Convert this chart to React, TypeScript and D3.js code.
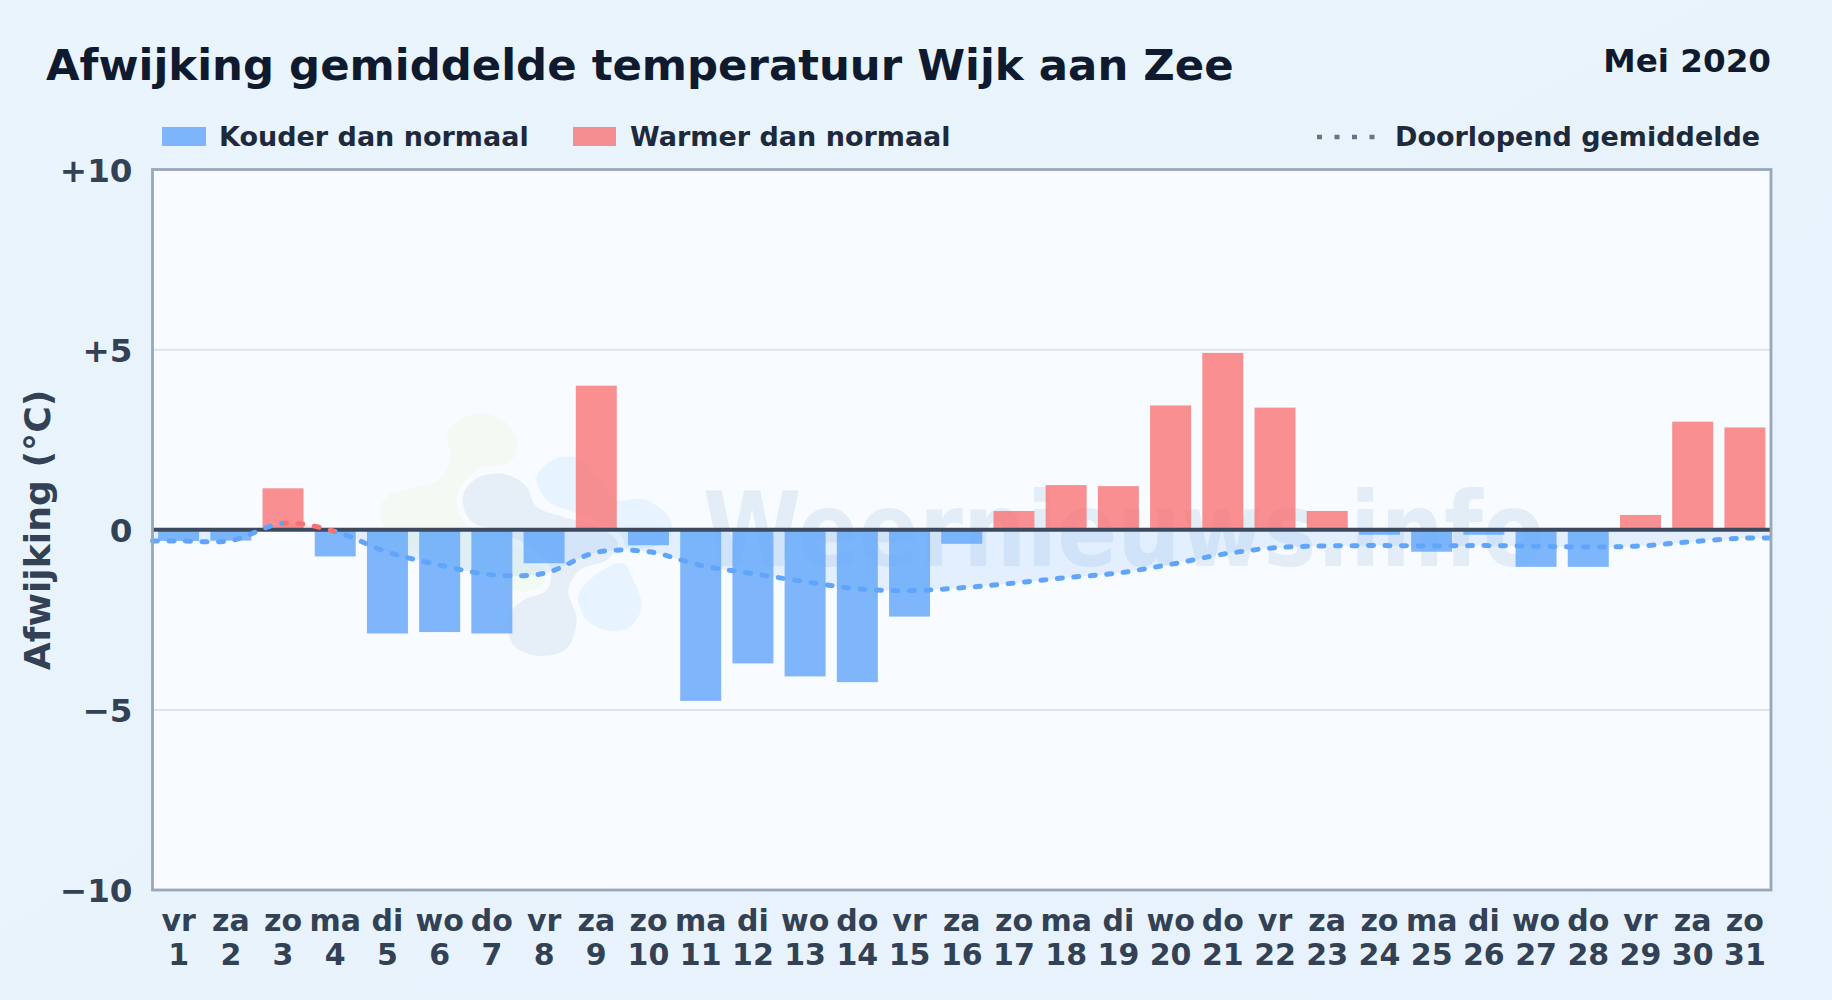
import { useEffect, useRef } from "react";
import * as d3 from "d3";

const WIDTH = 1832;
const HEIGHT = 1000;
const margin = { top: 169.5, right: 61, bottom: 110, left: 152.5 };
const FONT = "'DejaVu Sans', sans-serif";

const weekdays = ["vr", "za", "zo", "ma", "di", "wo", "do", "vr", "za", "zo", "ma", "di", "wo", "do", "vr", "za", "zo", "ma", "di", "wo", "do", "vr", "za", "zo", "ma", "di", "wo", "do", "vr", "za", "zo"];
const days = [1, 2, 3, 4, 5, 6, 7, 8, 9, 10, 11, 12, 13, 14, 15, 16, 17, 18, 19, 20, 21, 22, 23, 24, 25, 26, 27, 28, 29, 30, 31];
const deviation = [-0.31, -0.3, 1.15, -0.74, -2.88, -2.84, -2.88, -0.93, 4.0, -0.43, -4.75, -3.71, -4.07, -4.23, -2.41, -0.39, 0.52, 1.24, 1.21, 3.45, 4.91, 3.39, 0.52, -0.14, -0.61, -0.14, -1.03, -1.03, 0.41, 3.0, 2.84];
const runningMean = [-0.31, -0.3, 0.18, -0.05, -0.62, -0.98, -1.25, -1.21, -0.63, -0.61, -0.99, -1.22, -1.44, -1.64, -1.69, -1.61, -1.48, -1.33, -1.2, -0.96, -0.68, -0.5, -0.45, -0.44, -0.45, -0.44, -0.46, -0.48, -0.45, -0.33, -0.23];
const yTicks = [-10, -5, 0, 5, 10];

const COLD = "#60a5fa";
const WARM = "#f87171";

// watermark blobs, traced in zoomed pixels of the logo area
const logoGreen = [[262, 100], [300, 60], [370, 40], [440, 70], [472, 130], [450, 185], [350, 210], [450, 300], [600, 430], [590, 500], [560, 550], [480, 575], [400, 540], [300, 500], [150, 450], [90, 400], [58, 340], [80, 290], [150, 265], [235, 240], [270, 170]];
const logoBlueTop = [[530, 230], [590, 175], [660, 175], [720, 240], [770, 300], [850, 297], [925, 350], [935, 400], [880, 440], [800, 440], [760, 390], [650, 340], [560, 300]];
const logoBlueLow = [[655, 590], [700, 530], [790, 490], [815, 530], [845, 620], [810, 680], [750, 692], [680, 660]];
const logoGrey = [[308, 290], [350, 235], [430, 222], [495, 255], [530, 320], [610, 350], [720, 385], [775, 430], [740, 480], [660, 510], [625, 570], [650, 660], [620, 745], [540, 768], [460, 735], [445, 650], [490, 600], [560, 570], [570, 500], [510, 440], [400, 390], [330, 360]];

export default function App() {
  const svgRef = useRef<SVGSVGElement>(null);

  useEffect(() => {
    if (!svgRef.current) return;
    const svg = d3.select(svgRef.current);
    svg.selectAll("*").remove();

    const left = margin.left;
    const right = WIDTH - margin.right;
    const top = margin.top;
    const bottom = HEIGHT - margin.bottom;

    const x = d3.scaleBand<number>().domain(days).range([left, right]).paddingInner(0.215).paddingOuter(0.1075);
    const xLine = d3.scaleLinear().domain([0.5, 31.5]).range([left, right]);
    const y = d3.scaleLinear().domain([-10, 10]).range([bottom, top]);

    const defs = svg.append("defs");
    const bg = defs.append("linearGradient").attr("id", "page-bg").attr("x1", 0).attr("y1", 0).attr("x2", 1).attr("y2", 1);
    bg.append("stop").attr("offset", 0).attr("stop-color", "#e9f4fd");
    bg.append("stop").attr("offset", 1).attr("stop-color", "#e8f2fc");

    // one colour per line segment: the starting point decides
    const segColors = defs.append("linearGradient").attr("id", "segments").attr("gradientUnits", "userSpaceOnUse")
      .attr("x1", left).attr("x2", right).attr("y1", 0).attr("y2", 0);
    runningMean.forEach((v, i) => {
      const c = v > 0 ? WARM : COLD;
      const from = i === 0 ? 0 : (xLine(days[i]) - left) / (right - left);
      const to = i === days.length - 1 ? 1 : (xLine(days[i + 1]) - left) / (right - left);
      segColors.append("stop").attr("offset", from).attr("stop-color", c);
      segColors.append("stop").attr("offset", to).attr("stop-color", c);
    });
    defs.append("clipPath").attr("id", "plot-clip").append("rect")
      .attr("x", left).attr("y", top).attr("width", right - left).attr("height", bottom - top);

    svg.append("rect").attr("width", WIDTH).attr("height", HEIGHT).attr("fill", "url(#page-bg)");
    svg.append("rect").attr("x", left).attr("y", top).attr("width", right - left).attr("height", bottom - top).attr("fill", "#f8fbff");

    // watermark
    const logoX = d3.scaleLinear().domain([0, 3]).range([360, 361]);
    const logoY = d3.scaleLinear().domain([0, 3]).range([400, 401]);
    const blob = d3.line<number[]>().x((d) => logoX(d[0])).y((d) => logoY(d[1])).curve(d3.curveCatmullRomClosed.alpha(0.5));
    const wm = svg.append("g").attr("clip-path", "url(#plot-clip)");
    wm.append("path").attr("d", blob(logoGreen)).attr("fill", "#f3faf4");
    wm.append("path").attr("d", blob(logoBlueTop)).attr("fill", "#e7f3fe");
    wm.append("path").attr("d", blob(logoBlueLow)).attr("fill", "#e7f3fe");
    wm.append("path").attr("d", blob(logoGrey)).attr("fill", "#e6eff8").attr("stroke", "#f8fbff").attr("stroke-width", 12).attr("paint-order", "stroke");
    wm.append("text").attr("x", 703).attr("y", 566).attr("font-family", FONT).attr("font-weight", 700)
      .attr("font-size", 104).attr("fill", "#e2edf8").attr("textLength", 841).attr("lengthAdjust", "spacingAndGlyphs")
      .text("Weernieuws.info");

    // grid
    svg.append("g").selectAll("line").data(yTicks.filter((t) => t !== 0 && Math.abs(t) !== 10)).join("line")
      .attr("x1", left).attr("x2", right).attr("y1", (d) => y(d)).attr("y2", (d) => y(d))
      .attr("stroke", "#dce5ec").attr("stroke-width", 2);

    const lineDays = [0.5, ...days, 31.5];
    const lineVals = [runningMean[0], ...runningMean, runningMean[runningMean.length - 1]];
    const pts: [number, number][] = lineDays.map((d, i) => [d, lineVals[i]]);

    const area = d3.area<[number, number]>().x((d) => xLine(d[0])).y0(y(0)).y1((d) => y(d[1])).curve(d3.curveCatmullRom.alpha(0.5));
    svg.append("path").attr("d", area(pts)).attr("fill", "url(#segments)").attr("fill-opacity", 0.14);

    // bars
    svg.append("g").selectAll("rect").data(days).join("rect")
      .attr("x", (d) => x(d)!)
      .attr("width", x.bandwidth())
      .attr("y", (d, i) => y(Math.max(0, deviation[i])))
      .attr("height", (d, i) => Math.abs(y(deviation[i]) - y(0)))
      .attr("fill", (d, i) => (deviation[i] < 0 ? COLD : WARM))
      .attr("fill-opacity", (d, i) => (deviation[i] < 0 ? 0.8 : 0.78));

    // zero line
    svg.append("line").attr("x1", left).attr("x2", right).attr("y1", y(0)).attr("y2", y(0))
      .attr("stroke", "#3d4a5e").attr("stroke-width", 3.8);

    // running mean
    const line = d3.line<[number, number]>().x((d) => xLine(d[0])).y((d) => y(d[1])).curve(d3.curveCatmullRom.alpha(0.5));
    svg.append("path").attr("d", line(pts)).attr("fill", "none").attr("stroke", "url(#segments)")
      .attr("stroke-width", 5).attr("stroke-dasharray", "5 11.5").attr("stroke-linecap", "round");

    // plot border
    svg.append("rect").attr("x", left).attr("y", top).attr("width", right - left).attr("height", bottom - top)
      .attr("fill", "none").attr("stroke", "#99a7bb").attr("stroke-width", 2.8);

    // axes
    const yAxis = svg.append("g").attr("transform", `translate(${left},0)`)
      .call(d3.axisLeft(y).tickValues(yTicks).tickSize(0).tickPadding(20).tickFormat((d) => {
        const v = +d;
        if (v === 0) return "0";
        return v > 0 ? `+${v}` : `\u2212${-v}`;
      }));
    yAxis.select(".domain").remove();
    yAxis.selectAll("text").attr("font-family", FONT).attr("font-weight", 700).attr("font-size", 32.6).attr("fill", "#334155").attr("dy", "0.36em");

    const xAxis = svg.append("g").attr("transform", `translate(0,${bottom})`)
      .call(d3.axisBottom(x).tickSize(0).tickFormat(() => ""));
    xAxis.select(".domain").remove();
    xAxis.selectAll<SVGTextElement, number>("text").each(function (d, i) {
      const t = d3.select(this).attr("y", null).attr("dy", null)
        .attr("font-family", FONT).attr("font-weight", 700).attr("font-size", 30).attr("fill", "#334155");
      t.append("tspan").attr("x", 0).attr("y", 41).text(weekdays[i]);
      t.append("tspan").attr("x", 0).attr("y", 75).text(d);
    });

    svg.append("text").attr("transform", `translate(50,530) rotate(-90)`).attr("text-anchor", "middle")
      .attr("font-family", FONT).attr("font-weight", 700).attr("font-size", 36.2).attr("fill", "#334155")
      .text("Afwijking (°C)");

    // titles
    svg.append("text").attr("x", 46).attr("y", 79.5).attr("font-family", FONT).attr("font-weight", 700)
      .attr("font-size", 43.4).attr("fill", "#0f1a2e").text("Afwijking gemiddelde temperatuur Wijk aan Zee");
    svg.append("text").attr("x", 1771).attr("y", 71.5).attr("text-anchor", "end").attr("font-family", FONT)
      .attr("font-weight", 700).attr("font-size", 32.6).attr("fill", "#0f1a2e").text("Mei 2020");

    // legend
    const legend = svg.append("g").attr("font-family", FONT).attr("font-weight", 700).attr("font-size", 27).attr("fill", "#1e293b");
    legend.append("rect").attr("x", 162).attr("y", 127).attr("width", 44).attr("height", 19).attr("fill", COLD).attr("fill-opacity", 0.8);
    legend.append("text").attr("x", 219).attr("y", 146).text("Kouder dan normaal");
    legend.append("rect").attr("x", 573).attr("y", 127).attr("width", 43).attr("height", 19).attr("fill", WARM).attr("fill-opacity", 0.78);
    legend.append("text").attr("x", 630).attr("y", 146).text("Warmer dan normaal");
    legend.append("line").attr("x1", 1317).attr("x2", 1375).attr("y1", 137).attr("y2", 137)
      .attr("stroke", "#64748b").attr("stroke-width", 4.4).attr("stroke-dasharray", "5 12.5");
    legend.append("text").attr("x", 1395).attr("y", 146).text("Doorlopend gemiddelde");
  }, []);

  return <svg ref={svgRef} width={WIDTH} height={HEIGHT} style={{ position: "absolute", left: 0, top: 0, display: "block" }} />;
}
